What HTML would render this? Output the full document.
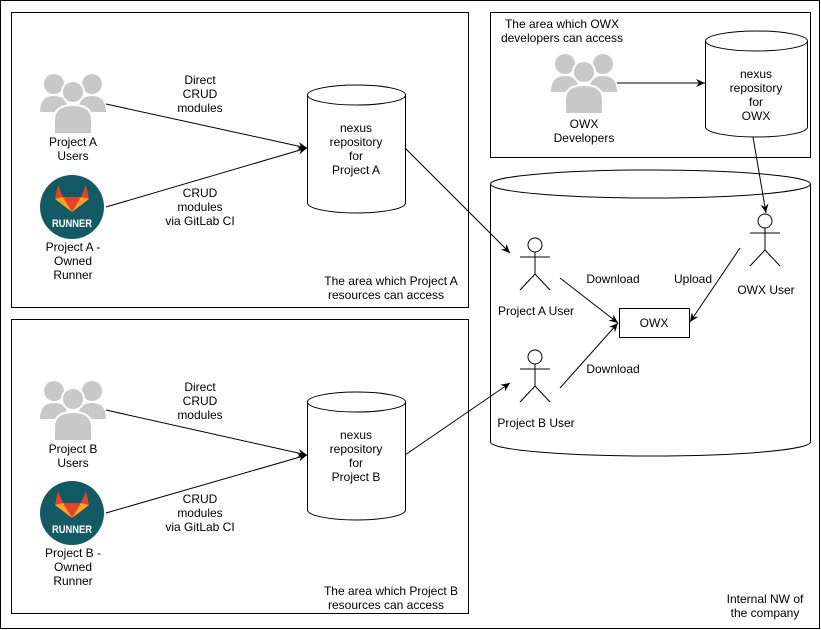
<!DOCTYPE html>
<html><head><style>body{margin:0;background:#fff}svg{display:block}text{font-family:"Liberation Sans",Arial,sans-serif;font-size:12px;fill:#000}</style></head><body>
<svg width="821" height="630" viewBox="0 0 821 630" xmlns="http://www.w3.org/2000/svg">
<defs>
<marker id="ar" markerWidth="10" markerHeight="10" refX="9" refY="5" orient="auto" markerUnits="userSpaceOnUse"><path d="M0,1 L9,5 L0,9 L3,5 Z" fill="#000"/></marker>
<g id="ppl">
 <circle cx="14" cy="14" r="10" fill="#c8c8c8"/><circle cx="52" cy="14" r="10" fill="#c8c8c8"/>
 <path d="M0,42 Q0,26 14,26 Q28,26 28,42 Z M38,42 Q38,26 52,26 Q66,26 66,42 Z" fill="#c8c8c8"/>
 <circle cx="33" cy="22" r="11" fill="#c8c8c8" stroke="#fff" stroke-width="2"/>
 <path d="M14,64 L14,50 Q14,35 33,35 Q52,35 52,50 L52,64 Z" fill="#c8c8c8" stroke="#fff" stroke-width="2"/>
</g>
<g id="runner">
 <circle cx="0" cy="0" r="32" fill="#145a65"/>
 <path d="M-14,-22 L-9,-10 L9,-10 L14,-22 L17,-8 L0,5 L-17,-8 Z" fill="#e2432a"/>
 <path d="M-17,-8 L0,5 L-9,-10 Z M17,-8 L0,5 L9,-10 Z" fill="#fca326"/>
 <text x="0" y="20" text-anchor="middle" textLength="40" lengthAdjust="spacingAndGlyphs" style="font-size:11px;font-weight:bold;fill:#fff">RUNNER</text>
</g>
<g id="stick" fill="none" stroke="#000" stroke-width="1">
 <circle cx="0" cy="7" r="7" fill="#fff"/><line x1="0" y1="14" x2="0" y2="36"/><line x1="-15" y1="19" x2="15" y2="19"/><line x1="0" y1="36" x2="-15" y2="52"/><line x1="0" y1="36" x2="15" y2="52"/>
</g>
</defs>
<rect x="0.5" y="0.5" width="819" height="628" fill="#fff" stroke="#000"/>
<rect x="11.5" y="12.5" width="457" height="295" fill="none" stroke="#000"/>
<rect x="11.5" y="319.5" width="457" height="294" fill="none" stroke="#000"/>
<rect x="490.5" y="12.5" width="320" height="145" fill="none" stroke="#000"/>
<path d="M490.5,184 L490.5,442 A159.5,14 0 0 0 810.5,442 L810.5,184" fill="#fff" stroke="#000"/>
<ellipse cx="650.5" cy="184" rx="160" ry="14" fill="#fff" stroke="#000"/>
<path d="M307.5,95 L307.5,203 A49,10 0 0 0 405.5,203 L405.5,95" fill="#fff" stroke="#000"/>
<ellipse cx="356.5" cy="95" rx="49" ry="10" fill="#fff" stroke="#000"/>
<text x="356" y="132" text-anchor="middle">nexus</text><text x="356" y="146" text-anchor="middle">repository</text><text x="356" y="160" text-anchor="middle">for</text><text x="356" y="174" text-anchor="middle">Project A</text>
<path d="M307.5,402 L307.5,510 A49,10 0 0 0 405.5,510 L405.5,402" fill="#fff" stroke="#000"/>
<ellipse cx="356.5" cy="402" rx="49" ry="10" fill="#fff" stroke="#000"/>
<text x="356" y="439" text-anchor="middle">nexus</text><text x="356" y="453" text-anchor="middle">repository</text><text x="356" y="467" text-anchor="middle">for</text><text x="356" y="481" text-anchor="middle">Project B</text>
<path d="M705.5,41 L705.5,127 A51,10 0 0 0 807.5,127 L807.5,41" fill="#fff" stroke="#000"/>
<ellipse cx="756.5" cy="41" rx="51" ry="10" fill="#fff" stroke="#000"/>
<text x="756" y="78" text-anchor="middle">nexus</text><text x="756" y="92" text-anchor="middle">repository</text><text x="756" y="106" text-anchor="middle">for</text><text x="756" y="120" text-anchor="middle">OWX</text>
<use href="#ppl" x="40" y="70"/><use href="#ppl" x="40" y="377"/><use href="#ppl" x="551" y="50"/>
<use href="#runner" x="72" y="207"/><use href="#runner" x="72" y="513"/>
<use href="#stick" x="535" y="238"/><use href="#stick" x="535" y="350"/><use href="#stick" x="765" y="214"/>
<rect x="619.5" y="308.5" width="70" height="29" fill="#fff" stroke="#000"/>
<text x="654" y="327" text-anchor="middle">OWX</text>
<text x="73" y="146" text-anchor="middle">Project A</text><text x="73" y="160" text-anchor="middle">Users</text>
<text x="73" y="251" text-anchor="middle">Project A -</text><text x="73" y="265" text-anchor="middle">Owned</text><text x="73" y="279" text-anchor="middle">Runner</text>
<text x="73" y="453" text-anchor="middle">Project B</text><text x="73" y="467" text-anchor="middle">Users</text>
<text x="73" y="557" text-anchor="middle">Project B -</text><text x="73" y="571" text-anchor="middle">Owned</text><text x="73" y="585" text-anchor="middle">Runner</text>
<text x="584" y="128" text-anchor="middle">OWX</text><text x="584" y="142" text-anchor="middle">Developers</text>
<text x="200" y="84" text-anchor="middle">Direct</text><text x="200" y="98" text-anchor="middle">CRUD</text><text x="200" y="112" text-anchor="middle">modules</text>
<text x="200" y="197" text-anchor="middle">CRUD</text><text x="200" y="211" text-anchor="middle">modules</text><text x="200" y="225" text-anchor="middle">via GitLab CI</text>
<text x="200" y="391" text-anchor="middle">Direct</text><text x="200" y="405" text-anchor="middle">CRUD</text><text x="200" y="419" text-anchor="middle">modules</text>
<text x="200" y="503" text-anchor="middle">CRUD</text><text x="200" y="517" text-anchor="middle">modules</text><text x="200" y="531" text-anchor="middle">via GitLab CI</text>
<text x="391" y="285" text-anchor="middle">The area which Project A</text><text x="386" y="299" text-anchor="middle">resources can access</text>
<text x="391" y="595" text-anchor="middle">The area which Project B</text><text x="386" y="609" text-anchor="middle">resources can access</text>
<text x="562" y="28" text-anchor="middle">The area which OWX</text><text x="562" y="42" text-anchor="middle">developers can access</text>
<text x="765" y="603" text-anchor="middle">Internal NW of</text><text x="765" y="617" text-anchor="middle">the company</text>
<text x="536" y="315" text-anchor="middle">Project A User</text><text x="536" y="427" text-anchor="middle">Project B User</text><text x="766" y="294" text-anchor="middle">OWX User</text>
<text x="613" y="283" text-anchor="middle">Download</text><text x="613" y="373" text-anchor="middle">Download</text><text x="693" y="283" text-anchor="middle">Upload</text>
<g stroke="#000" stroke-width="1" fill="none" marker-end="url(#ar)">
<line x1="106" y1="104" x2="307" y2="148"/><line x1="106" y1="207" x2="307" y2="148"/>
<line x1="106" y1="410" x2="307" y2="455"/><line x1="106" y1="513" x2="307" y2="455"/>
<line x1="405" y1="148" x2="510" y2="253"/><line x1="405" y1="455" x2="510" y2="383"/>
<line x1="617" y1="83" x2="705" y2="83"/><line x1="753" y1="137" x2="766" y2="213"/>
<line x1="560" y1="278" x2="618" y2="323"/><line x1="560" y1="388" x2="618" y2="323"/><line x1="740" y1="248" x2="690" y2="322"/>
</g>
</svg>
</body></html>
